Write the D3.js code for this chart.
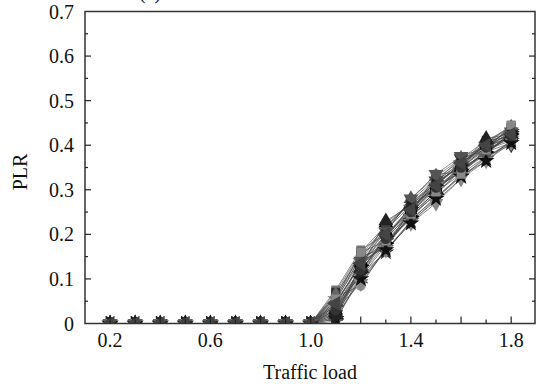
<!DOCTYPE html>
<html>
<head>
<meta charset="utf-8">
<script src="https://cdn.jsdelivr.net/npm/d3@7"></script>
<style>
  body { margin: 0; background: #fff; }
  svg { display: block; font-family: "Liberation Serif", "Times New Roman", serif; }
  .tick-label { font-size: 20px; fill: #111; }
  .axis-title { font-size: 20px; fill: #111; }
  .series-line { fill: none; stroke: #444; stroke-width: 0.7; stroke-opacity: 0.9; }
</style>
</head>
<body>
<div id="chart"></div>
<script>
// --- Data ---
const loads = [0.2, 0.3, 0.4, 0.5, 0.6, 0.7, 0.8, 0.9, 1.0, 1.1, 1.2, 1.3, 1.4, 1.5, 1.6, 1.7, 1.8];

const xTickLabels = [0.2, 0.6, 1.0, 1.4, 1.8];
const yTickLabels = [0, 0.1, 0.2, 0.3, 0.4, 0.5, 0.6, 0.7];

// one row per run; PLR per traffic load
const plr = [
  [0, 0, 0, 0, 0, 0, 0, 0, 0, 0.075, 0.165, 0.200, 0.260, 0.310, 0.360, 0.395, 0.440],
  [0, 0, 0, 0, 0, 0, 0, 0, 0, 0.060, 0.085, 0.170, 0.245, 0.335, 0.340, 0.380, 0.430],
  [0, 0, 0, 0, 0, 0, 0, 0, 0, 0.030, 0.140, 0.225, 0.270, 0.300, 0.350, 0.410, 0.420],
  [0, 0, 0, 0, 0, 0, 0, 0, 0, 0.020, 0.120, 0.190, 0.250, 0.320, 0.370, 0.390, 0.415],
  [0, 0, 0, 0, 0, 0, 0, 0, 0, 0.010, 0.130, 0.180, 0.240, 0.290, 0.345, 0.385, 0.425],
  [0, 0, 0, 0, 0, 0, 0, 0, 0, 0.040, 0.095, 0.165, 0.230, 0.275, 0.325, 0.375, 0.405],
  [0, 0, 0, 0, 0, 0, 0, 0, 0, 0.005, 0.110, 0.160, 0.230, 0.285, 0.330, 0.370, 0.410],
  [0, 0, 0, 0, 0, 0, 0, 0, 0, 0.050, 0.150, 0.210, 0.265, 0.315, 0.355, 0.400, 0.435],
  [0, 0, 0, 0, 0, 0, 0, 0, 0, 0.065, 0.155, 0.215, 0.275, 0.325, 0.365, 0.405, 0.445],
  [0, 0, 0, 0, 0, 0, 0, 0, 0, 0.035, 0.125, 0.195, 0.255, 0.305, 0.340, 0.390, 0.420],
  [0, 0, 0, 0, 0, 0, 0, 0, 0, 0.045, 0.105, 0.175, 0.245, 0.295, 0.350, 0.380, 0.430],
  [0, 0, 0, 0, 0, 0, 0, 0, 0, 0.025, 0.115, 0.185, 0.235, 0.280, 0.335, 0.375, 0.400],
  [0, 0, 0, 0, 0, 0, 0, 0, 0, 0.055, 0.140, 0.170, 0.260, 0.310, 0.360, 0.400, 0.415],
  [0, 0, 0, 0, 0, 0, 0, 0, 0, 0.015, 0.100, 0.205, 0.280, 0.330, 0.370, 0.410, 0.440],
  [0, 0, 0, 0, 0, 0, 0, 0, 0, 0.070, 0.160, 0.220, 0.270, 0.315, 0.355, 0.395, 0.430],
  [0, 0, 0, 0, 0, 0, 0, 0, 0, 0.045, 0.135, 0.175, 0.240, 0.290, 0.345, 0.385, 0.420],
  [0, 0, 0, 0, 0, 0, 0, 0, 0, 0.030, 0.090, 0.165, 0.225, 0.270, 0.325, 0.365, 0.410],
  [0, 0, 0, 0, 0, 0, 0, 0, 0, 0.020, 0.130, 0.200, 0.250, 0.300, 0.350, 0.395, 0.425],
  [0, 0, 0, 0, 0, 0, 0, 0, 0, 0.040, 0.120, 0.190, 0.265, 0.320, 0.360, 0.400, 0.435],
  [0, 0, 0, 0, 0, 0, 0, 0, 0, 0.060, 0.145, 0.180, 0.250, 0.305, 0.340, 0.385, 0.405],
  [0, 0, 0, 0, 0, 0, 0, 0, 0, 0.050, 0.130, 0.215, 0.270, 0.320, 0.360, 0.405, 0.440],
  [0, 0, 0, 0, 0, 0, 0, 0, 0, 0.025, 0.125, 0.230, 0.265, 0.300, 0.355, 0.415, 0.425],
  [0, 0, 0, 0, 0, 0, 0, 0, 0, 0.035, 0.110, 0.180, 0.235, 0.300, 0.345, 0.380, 0.425],
  [0, 0, 0, 0, 0, 0, 0, 0, 0, 0.065, 0.150, 0.170, 0.255, 0.320, 0.350, 0.390, 0.410],
  [0, 0, 0, 0, 0, 0, 0, 0, 0, 0.010, 0.100, 0.165, 0.225, 0.280, 0.330, 0.365, 0.405],
  [0, 0, 0, 0, 0, 0, 0, 0, 0, 0.040, 0.140, 0.205, 0.280, 0.335, 0.375, 0.395, 0.430],
  [0, 0, 0, 0, 0, 0, 0, 0, 0, 0.015, 0.115, 0.195, 0.260, 0.310, 0.355, 0.405, 0.430],
  [0, 0, 0, 0, 0, 0, 0, 0, 0, 0.055, 0.160, 0.185, 0.245, 0.295, 0.335, 0.390, 0.445],
  [0, 0, 0, 0, 0, 0, 0, 0, 0, 0.030, 0.120, 0.190, 0.250, 0.305, 0.350, 0.395, 0.420],
  [0, 0, 0, 0, 0, 0, 0, 0, 0, 0.045, 0.135, 0.200, 0.255, 0.310, 0.360, 0.400, 0.425]
];

const markers = ['square', 'circle', 'triUp', 'triDown', 'triRight', 'diamond', 'star', 'circle', 'square', 'circle',
                 'triLeft', 'diamond', 'star', 'triUp', 'square', 'circle', 'triDown', 'cross', 'triRight', 'diamond',
                 'square', 'triUp', 'circle', 'diamond', 'star', 'triDown', 'triRight', 'square', 'circle', 'triLeft'];
const shades = ['#777', '#999', '#000', '#333', '#000', '#888', '#333', '#444', '#555', '#222',
                '#666', '#333', '#777', '#555', '#333', '#777', '#888', '#000', '#444', '#999',
                '#444', '#222', '#555', '#666', '#111', '#555', '#222', '#888', '#333', '#444'];

// --- Plot sizing ---
const W = 536, H = 385;
const plot = { left: 85, right: 535, top: 11.5, bottom: 323.5 };

const svg = d3.select('#chart').append('svg')
  .attr('width', W)
  .attr('height', H);

// --- Scales ---
const x = d3.scaleLinear().domain([0.1, 1.895]).range([plot.left, plot.right]);
const y = d3.scaleLinear().domain([0, 0.7]).range([plot.bottom, plot.top]);

svg.append('clipPath').attr('id', 'plot-clip')
  .append('rect')
  .attr('x', plot.left).attr('y', plot.top)
  .attr('width', plot.right - plot.left).attr('height', plot.bottom - plot.top);

// title line, cut off at the top of the image (as in the source figure)
svg.append('text')
  .attr('class', 'axis-title')
  .attr('x', 150).attr('y', -1)
  .attr('text-anchor', 'middle')
  .text('(a)');

const symbolFor = {
  square: d3.symbolSquare, circle: d3.symbolCircle, triUp: d3.symbolTriangle,
  triDown: d3.symbolTriangle, triRight: d3.symbolTriangle, triLeft: d3.symbolTriangle,
  diamond: d3.symbolDiamond, star: d3.symbolStar, cross: d3.symbolCross
};
const rotFor = { triDown: 180, triRight: 90, triLeft: -90 };
const sizeFor = { square: 80, circle: 85, triUp: 95, triDown: 95, triRight: 95, triLeft: 95, diamond: 75, star: 90, cross: 80 };

const chart = svg.append('g').attr('clip-path', 'url(#plot-clip)');

const line = d3.line()
  .x((d, i) => x(loads[i]))
  .y(d => y(d));

chart.selectAll('.series-line')
  .data(plr)
  .enter().append('path')
  .attr('class', 'series-line')
  .attr('d', line);

const grp = chart.selectAll('.series')
  .data(plr)
  .enter().append('g')
  .attr('class', 'series');

grp.each(function (row, s) {
  const m = markers[s];
  const path = d3.symbol().type(symbolFor[m]).size(sizeFor[m])();
  d3.select(this).selectAll('path')
    .data(row)
    .enter().append('path')
    .attr('d', path)
    .attr('fill', shades[s])
    .attr('transform', (d, i) => `translate(${x(loads[i])},${y(d)}) rotate(${rotFor[m] || 0})`);
});

// --- Frame + ticks ---
svg.append('rect')
  .attr('x', plot.left).attr('y', plot.top)
  .attr('width', plot.right - plot.left).attr('height', plot.bottom - plot.top)
  .attr('fill', 'none')
  .attr('stroke', '#333')
  .attr('stroke-width', 1.5);

const xTicks = d3.range(2, 19).map(v => v / 10);
svg.append('g').selectAll('line')
  .data(xTicks)
  .enter().append('line')
  .attr('x1', d => x(d)).attr('x2', d => x(d))
  .attr('y1', plot.bottom)
  .attr('y2', (d, i) => plot.bottom - (i % 2 === 0 ? 7 : 4))
  .attr('stroke', '#222').attr('stroke-width', 1.2);

const yTicks = d3.range(1, 14).map(v => v / 20);
[plot.left, plot.right].forEach((xe, side) => {
  const dir = side === 0 ? 1 : -1;
  svg.append('g').selectAll('line')
    .data(yTicks)
    .enter().append('line')
    .attr('y1', d => y(d)).attr('y2', d => y(d))
    .attr('x1', xe)
    .attr('x2', (d, i) => xe + dir * (i % 2 === 1 ? 6 : 3))
    .attr('stroke', '#222').attr('stroke-width', 1.2);
});

// tick labels
svg.append('g').selectAll('text')
  .data(xTickLabels)
  .enter().append('text')
  .attr('class', 'tick-label')
  .attr('x', d => x(d))
  .attr('y', 347)
  .attr('text-anchor', 'middle')
  .text(d => d.toFixed(1));

svg.append('g').selectAll('text')
  .data(yTickLabels)
  .enter().append('text')
  .attr('class', 'tick-label')
  .attr('x', plot.left - 11)
  .attr('y', d => y(d) + 7)
  .attr('text-anchor', 'end')
  .text(d => d === 0 ? '0' : d.toFixed(1));

// axis titles
svg.append('text')
  .attr('class', 'axis-title')
  .attr('x', 310).attr('y', 379)
  .attr('text-anchor', 'middle')
  .text('Traffic load');

svg.append('text')
  .attr('class', 'axis-title')
  .attr('transform', 'translate(27,172) rotate(-90)')
  .attr('text-anchor', 'middle')
  .text('PLR');
</script>
</body>
</html>
